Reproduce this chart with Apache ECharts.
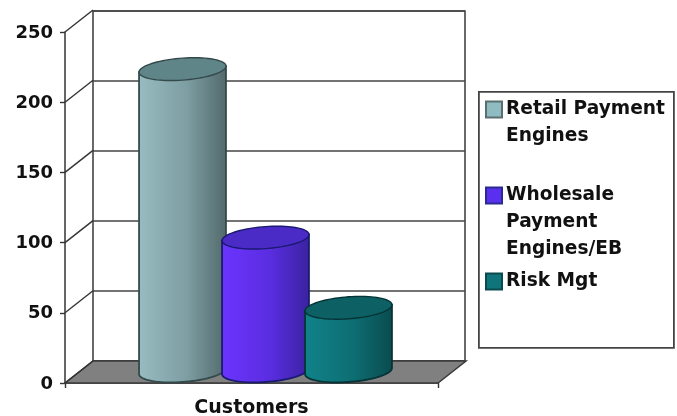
<!DOCTYPE html>
<html>
<head>
<meta charset="utf-8">
<style>html,body{margin:0;padding:0;background:#fff}#c{width:677px;height:416px;filter:blur(0.6px)}</style>
<script src="https://cdn.jsdelivr.net/npm/echarts@6/dist/echarts.min.js"></script>
</head>
<body>
<div id="c"></div>
<script>
const categories = ['Customers'];
const yTicks = [0, 50, 100, 150, 200, 250];
const seriesNames = ['Retail Payment\nEngines', 'Wholesale\nPayment\nEngines/EB', 'Risk Mgt'];
const retailValues = [215];
const wholesaleValues = [95];
const riskValues = [45];

const FONT = '"DejaVu Sans"';
const DX = 28, DY = 22;
const palette = [
  {l:'#98bcc0', m:'#7d9ea2', r:'#52696b', top:'#5f8588', edge:'#34494b', swatch:'#8fbcc0', sb:'#5a6f70'},
  {l:'#6c34ff', m:'#5a2de0', r:'#3a22a0', top:'#4a2bc6', edge:'#1a1a70', swatch:'#5a30f0', sb:'#2a2a90'},
  {l:'#108389', m:'#0d6e73', r:'#0a4b4e', top:'#0d6165', edge:'#053436', swatch:'#0f757b', sb:'#0a4a4e'}
];

function cylinder(idx) {
  return function (params, api) {
    const p = palette[idx];
    const base = api.coord([api.value(0), 0]);
    const top = api.coord([api.value(0), api.value(1)]);
    const band = api.size([1, 0])[0];
    const pitch = band * 0.2225, rx = band * 0.1165, ry = 11, tilt = 0.07;
    const cx = base[0] + DX / 2 + (idx - 1) * pitch;
    const yB = base[1] - DY / 2 - 1, yT = top[1] - DY / 2 - 1;
    const pt = (a, cy) => {
      const x = rx * Math.cos(a), y = ry * Math.sin(a);
      return [cx + x, cy + y - tilt * x];
    };
    const body = [], lid = [];
    for (let i = 0; i <= 40; i++) body.push(pt(Math.PI * i / 40, yB));
    body.push(pt(Math.PI, yT));
    body.push(pt(0, yT));
    for (let i = 0; i < 80; i++) lid.push(pt(2 * Math.PI * i / 80, yT));
    return {
      type: 'group',
      children: [
        {type: 'polygon', shape: {points: body}, style: {
          fill: new echarts.graphic.LinearGradient(0, 0, 1, 0, [
            {offset: 0, color: p.l}, {offset: 0.55, color: p.m}, {offset: 1, color: p.r}]),
          stroke: p.edge, lineWidth: 1.8}},
        {type: 'polygon', shape: {points: lid}, style: {fill: p.top, stroke: p.edge, lineWidth: 1.4}}
      ]
    };
  };
}

function walls(params, api) {
  const c = api.coord([api.value(0), api.value(1)]);
  const band = api.size([1, 0])[0];
  const xL = c[0] - band / 2, xR = c[0] + band / 2;
  const children = [];
  if (api.value(1) === 0) {
    children.push({type: 'polygon', shape: {points: [[xL, c[1]], [xL + DX, c[1] - DY], [xR + DX, c[1] - DY], [xR, c[1]]]},
      style: {fill: '#808080', stroke: '#3a3a3a', lineWidth: 1.5}});
  }
  children.push({type: 'line', shape: {x1: xL, y1: c[1], x2: xL + DX, y2: c[1] - DY},
    style: {stroke: '#333', lineWidth: 1.4}});
  return {type: 'group', children: children};
}

function legendFor(i, top) {
  const extra = seriesNames[i].split('\n').length - 1;
  return {
    left: 485, top: top, padding: 0, selectedMode: false,
    data: [seriesNames[i]], itemWidth: 16, itemHeight: 16, itemGap: 0,
    icon: 'rect',
    formatter: n => ' \n'.repeat(extra) + n,
    textStyle: {fontFamily: FONT, fontWeight: 'bold', fontSize: 18.6, lineHeight: 27, color: '#111', padding: [4, 0, 0, -1]}
  };
}

function cylSeries(i, vals) {
  return {
    name: seriesNames[i], type: 'custom', xAxisIndex: 0, yAxisIndex: 0, z: 3 + i,
    itemStyle: {color: palette[i].swatch, borderColor: palette[i].sb, borderWidth: 1.5},
    encode: {x: 0, y: 1},
    data: vals.map((v, k) => [categories[k], v]),
    renderItem: cylinder(i), silent: true
  };
}

const chart = echarts.init(document.getElementById('c'), null, {renderer: 'canvas'});
chart.setOption({
  animation: false,
  backgroundColor: '#fff',
  grid: [
    {left: 65, top: 32, width: 373, height: 351, show: false, outerBoundsMode: 'none'},
    {left: 93, top: 11, width: 372, height: 350, show: true, borderColor: '#444', borderWidth: 1.6, backgroundColor: '#fff', outerBoundsMode: 'none'}
  ],
  xAxis: [
    {gridIndex: 0, type: 'category', data: categories,
      axisLine: {show: true, lineStyle: {color: '#333', width: 1.5}},
      axisTick: {show: true, length: 5, lineStyle: {color: '#333', width: 1.4}},
      axisLabel: {margin: 16, fontFamily: FONT, fontWeight: 'bold', fontSize: 19, color: '#111'}},
    {gridIndex: 1, type: 'category', data: categories, show: false}
  ],
  yAxis: [
    {gridIndex: 0, type: 'value', min: 0, max: 250, interval: 50,
      axisLine: {show: true, lineStyle: {color: '#333', width: 1.5}},
      axisTick: {show: true, length: 5, lineStyle: {color: '#333', width: 1.4}},
      splitLine: {show: false},
      axisLabel: {margin: 12, formatter: '{a|{value}}',
        rich: {a: {padding: [2, 0, 0, 0], fontFamily: FONT, fontWeight: 'bold', fontSize: 18, color: '#111'}}}},
    {gridIndex: 1, type: 'value', min: 0, max: 250, interval: 50,
      axisLine: {show: false}, axisTick: {show: false}, axisLabel: {show: false},
      splitLine: {show: true, lineStyle: {color: '#444', width: 1.5}}}
  ],
  legend: [legendFor(0, 67), legendFor(1, 126), legendFor(2, 266)],
  graphic: [{type: 'rect', left: 478, top: 91, z: -1, shape: {width: 195, height: 256},
    style: {fill: '#fff', stroke: '#444', lineWidth: 1.8}}],
  series: [
    {type: 'custom', name: 'walls', xAxisIndex: 0, yAxisIndex: 0, z: 2, silent: true, encode: {x: 0, y: 1},
      data: yTicks.map(t => [categories[0], t]), renderItem: walls},
    cylSeries(0, retailValues),
    cylSeries(1, wholesaleValues),
    cylSeries(2, riskValues)
  ]
});
</script>
</body>
</html>
